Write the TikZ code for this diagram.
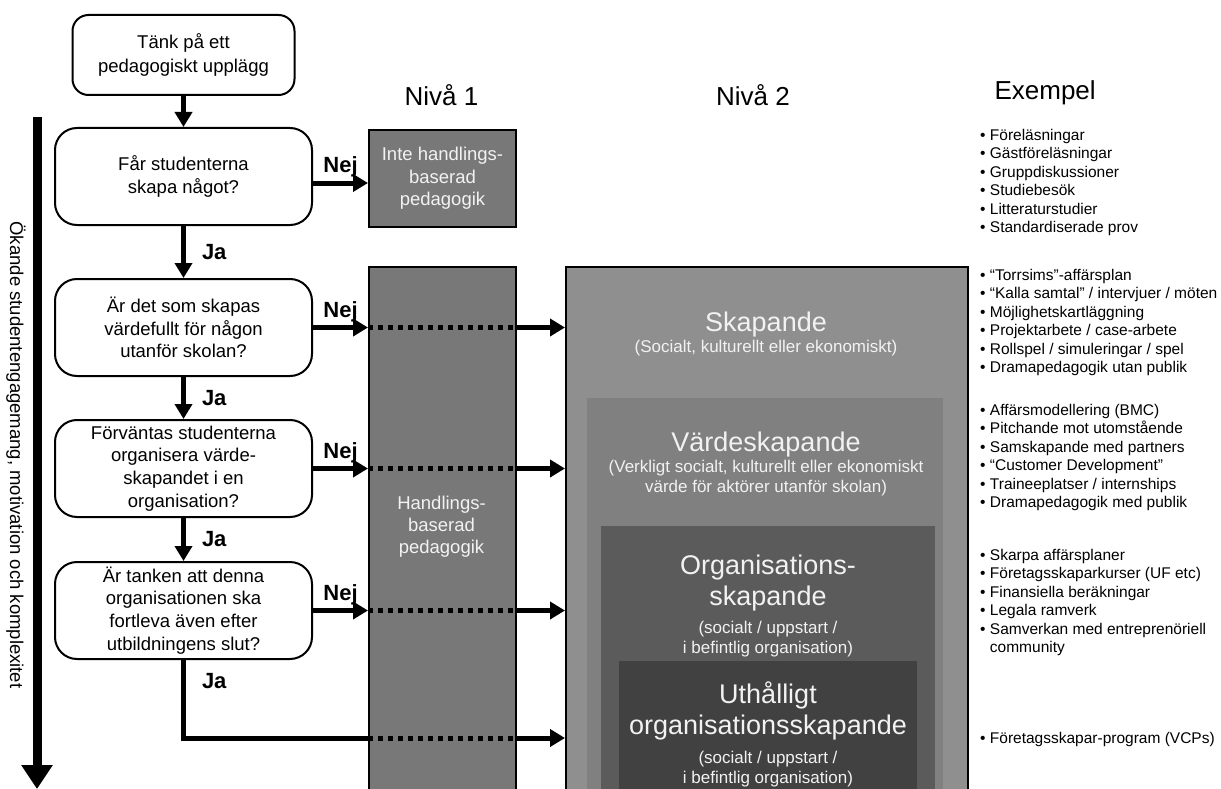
\documentclass[tikz,border=0pt]{standalone}
\usepackage{fontspec}
\setmainfont{Liberation Sans}
\usetikzlibrary{arrows.meta, positioning, calc}
\definecolor{levelA}{gray}{0.56}
\definecolor{levelB}{gray}{0.50}
\definecolor{levelC}{gray}{0.355}
\definecolor{levelD}{gray}{0.255}
\definecolor{colgrey}{gray}{0.47}
\definecolor{paletext}{gray}{0.95}
\tikzset{%
	startbox/.style={draw, line width=2pt, rounded corners=16pt, minimum width=222pt,%
		minimum height=80pt, align=center, font=\fontsize{18.5}{24}\selectfont},
	question/.style={draw, line width=2pt, rounded corners=22pt, minimum width=257pt,%
		minimum height=97pt, inner sep=0pt, align=center, font=\fontsize{18.5}{22.7}\selectfont},
	flow/.style={line width=5pt, -{Triangle[length=15pt, width=17pt]}},
	flowline/.style={line width=5pt},
	dotrun/.style={line width=5pt, dash pattern=on 5pt off 5pt},
	answer/.style={inner sep=3pt, font=\fontsize{22}{24}\selectfont\bfseries},
	niva/.style={draw, line width=2pt, fill=colgrey, text=paletext, align=center,%
		anchor=north west, font=\fontsize{18.5}{22.5}\selectfont},
	lvlbox/.style={anchor=north west, inner sep=0pt},
	lvltitle/.style={anchor=base, text=paletext, align=center, font=\fontsize{27}{31}\selectfont},
	lvlsub/.style={anchor=base, text=paletext, align=center, font=\fontsize{17}{20}\selectfont},
	heading/.style={font=\fontsize{26}{30}\selectfont},
	examples/.style={anchor=base west, align=left, inner sep=0pt, font=\fontsize{15.5}{18.5}\selectfont}
}

\begin{document}
\begin{tikzpicture}[x=1pt, y=-1pt]
	\useasboundingbox (0,0) rectangle (1221,789);
	\clip (0,0) rectangle (1221,789);

	%levels
	\node [lvlbox, draw, line width=2pt, fill=colgrey, minimum width=147pt, minimum height=540pt] (col) at (368,266) {};
	\node [lvlbox, draw, line width=2pt, fill=levelA, minimum width=402pt, minimum height=540pt] (sk) at (565,266) {};
	\node [lvlbox, fill=levelB, minimum width=356pt, minimum height=400pt] (vs) at (587,398) {};
	\node [lvlbox, fill=levelC, minimum width=334pt, minimum height=270pt] (os) at (601,526) {};
	\node [lvlbox, fill=levelD, minimum width=298pt, minimum height=140pt] (uo) at (619,661) {};
	\node [niva, minimum width=147pt, minimum height=97pt] (niv1) at (368,129) {Inte handlings-\\baserad\\pedagogik};
	\node [text=paletext, align=center, font=\fontsize{18.5}{22}\selectfont] (coltext) at (441.5,527) {Handlings-\\baserad\\pedagogik};

	%last line of each text sits on the given baseline
	\node [lvltitle] (sktitle) at (766,331) {Skapande};
	\node [lvlsub] (sksub) at (766,352) {(Socialt, kulturellt eller ekonomiskt)};
	\node [lvltitle] (vstitle) at (766,451) {Värdeskapande};
	\node [lvlsub] (vssub) at (766,492) {(Verkligt socialt, kulturellt eller ekonomiskt\\värde för aktörer utanför skolan)};
	\node [lvltitle] (ostitle) at (768,605) {Organisations-\\skapande};
	\node [lvlsub] (ossub) at (768,653) {(socialt / uppstart /\\i befintlig organisation)};
	\node [lvltitle] (uotitle) at (768,734) {Uthålligt\\organisationsskapande};
	\node [lvlsub] (uosub) at (768,783) {(socialt / uppstart /\\i befintlig organisation)};

	%headings
	\node [heading] (n1) at (441.5,95) {Nivå 1};
	\node [heading] (n2) at (753,95) {Nivå 2};
	\node [heading, anchor=west] (exh) at (991,93) {Exempel};

	%questions
	\node [question] (q1) at (183.5,176.5) {Får studenterna\\skapa något?};
	\node [startbox, above=31pt of q1] (start) {Tänk på ett\\pedagogiskt upplägg};
	\node [question, below=52pt of q1] (q2) {Är det som skapas\\värdefullt för någon\\utanför skolan?};
	\node [question, below=42pt of q2] (q3) {Förväntas studenterna\\organisera värde-\\skapandet i en\\organisation?};
	\node [question, below=43pt of q3] (q4) {Är tanken att denna\\organisationen ska\\fortleva även efter\\utbildningens slut?};

	%engagement
	\coordinate (engtop) at (37,117);
	\coordinate (engend) at (37,789);
	\draw [line width=9pt, -{Triangle[length=24pt, width=30pt]}] (engtop) -- (engend);
	\node [rotate=-90, font=\fontsize{18.5}{20}\selectfont] (engtext) at (16,455) {Ökande studentengagemang, motivation och komplexitet};

	%ja
	\draw [flow] (start.south) -- (start.south |- q1.north);
	\draw [flow] (q1) -- node[answer, right=13pt]{Ja} (q2);
	\draw [flow] (q2) -- node[answer, right=13pt]{Ja} (q3);
	\draw [flow] (q3) -- node[answer, right=13pt]{Ja} (q4);
	\coordinate (bend) at (183.5,738);
	\draw [flowline] (q4.south) -- node[answer, right=13pt, pos=0.27]{Ja} (bend) -- (bend -| col.west);
	\draw [dotrun] (bend -| col.west) -- (bend -| col.east);
	\draw [flow] (bend -| col.east) -- (bend -| sk.west);

	%nej
	\draw [flow] ([yshift=-6.5pt]q1.east) -- node[answer, above]{Nej} ([yshift=-6.5pt]q1.east -| niv1.west);
	\draw [flow] (q2.east) -- node[answer, above]{Nej} (q2.east -| col.west);
	\draw [dotrun] (q2.east -| col.west) -- (q2.east -| col.east);
	\draw [flow] (q2.east -| col.east) -- (q2.east -| sk.west);
	\draw [flow] (q3.east) -- node[answer, above]{Nej} (q3.east -| col.west);
	\draw [dotrun] (q3.east -| col.west) -- (q3.east -| col.east);
	\draw [flow] (q3.east -| col.east) -- (q3.east -| sk.west);
	\draw [flow] (q4.east) -- node[answer, above]{Nej} (q4.east -| col.west);
	\draw [dotrun] (q4.east -| col.west) -- (q4.east -| col.east);
	\draw [flow] (q4.east -| col.east) -- (q4.east -| sk.west);

	%examples
	\node [examples] (ex1) at (980,232.5) {• Föreläsningar\\• Gästföreläsningar\\• Gruppdiskussioner\\• Studiebesök\\• Litteraturstudier\\• Standardiserade prov};
	\node [examples] (ex2) at (980,372.5) {• “Torrsims”-affärsplan\\• “Kalla samtal” / intervjuer / möten\\• Möjlighetskartläggning\\• Projektarbete / case-arbete\\• Rollspel / simuleringar / spel\\• Dramapedagogik utan publik};
	\node [examples] (ex3) at (980,507.5) {• Affärsmodellering (BMC)\\• Pitchande mot utomstående\\• Samskapande med partners\\• “Customer Development”\\• Traineeplatser / internships\\• Dramapedagogik med publik};
	\node [examples] (ex4) at (980,652.5) {• Skarpa affärsplaner\\• Företagsskaparkurser (UF etc)\\• Finansiella beräkningar\\• Legala ramverk\\• Samverkan med entreprenöriell\\\phantom{• }community};
	\node [examples] (ex5) at (980,743) {• Företagsskapar-program (VCPs)};
\end{tikzpicture}
\end{document}
